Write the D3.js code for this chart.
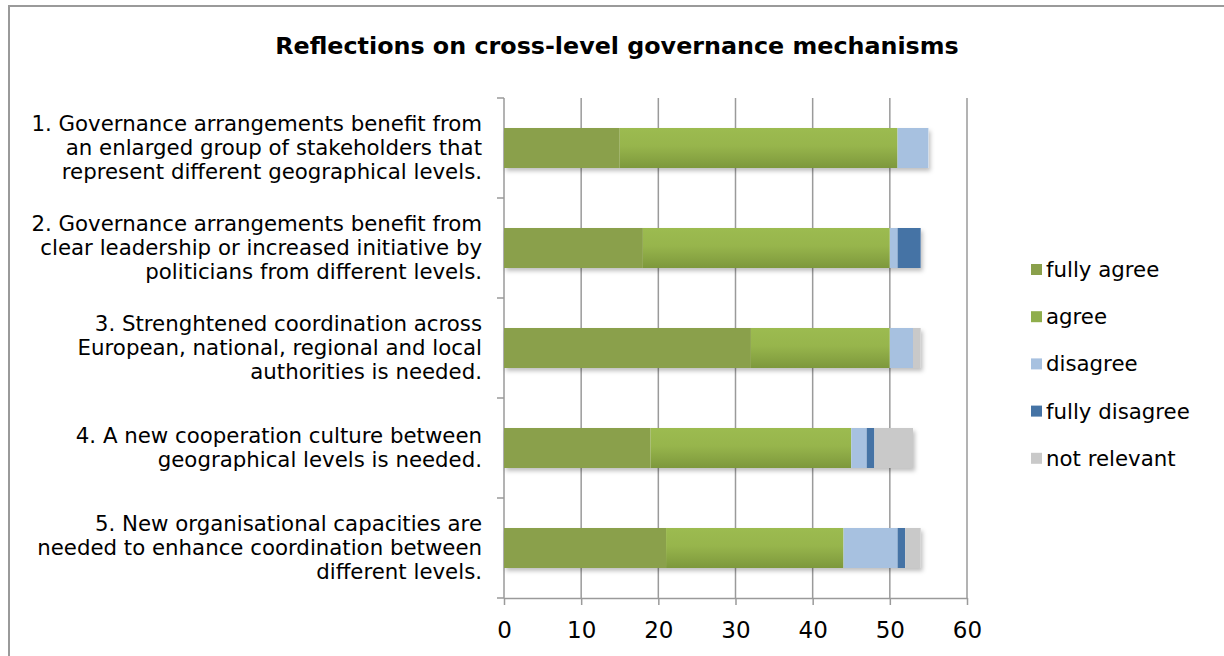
<!DOCTYPE html>
<html>
<head>
<meta charset="utf-8">
<script src="https://cdn.jsdelivr.net/npm/d3@7"></script>
<style>
  body { margin: 0; background: #fff; }
  text { font-family: "DejaVu Sans", Verdana, sans-serif; fill: #000; }
</style>
</head>
<body>
<div id="chart"></div>
<script>
// data
var questions = [
  ["1. Governance arrangements benefit from", "an enlarged group of stakeholders that", "represent different geographical levels."],
  ["2. Governance arrangements benefit from", "clear leadership or increased initiative by", "politicians from different levels."],
  ["3. Strenghtened coordination across", "European, national, regional and local", "authorities is needed."],
  ["4. A new cooperation culture between", "geographical levels is needed."],
  ["5. New organisational capacities are", "needed to enhance coordination between", "different levels."]
];
var seriesNames = ["fully agree", "agree", "disagree", "fully disagree", "not relevant"];
var fullyAgree    = [15, 18, 32, 19, 21];
var agree         = [36, 32, 18, 26, 23];
var disagree      = [4, 1, 3, 2, 7];
var fullyDisagree = [0, 3, 0, 1, 1];
var notRelevant   = [0, 0, 1, 5, 2];
var xTicks = [0, 10, 20, 30, 40, 50, 60];

var colors = ["#8AA04B", "url(#agreeGrad)", "#A7C1E0", "#4573A5", "#C9C9C9"];
var legendColors = ["#8AA04B", "#8FAE4C", "#A7C1E0", "#4573A5", "#C9C9C9"];

var width = 1224, height = 656;
var svg = d3.select("#chart").append("svg")
  .attr("width", width).attr("height", height);

var defs = svg.append("defs");
var grad = defs.append("linearGradient").attr("id", "agreeGrad")
  .attr("x1", 0).attr("y1", 0).attr("x2", 0).attr("y2", 1);
grad.append("stop").attr("offset", "0%").attr("stop-color", "#9CBB50");
grad.append("stop").attr("offset", "45%").attr("stop-color", "#97B54C");
grad.append("stop").attr("offset", "100%").attr("stop-color", "#7D983C");
var sh = defs.append("filter").attr("id", "shadow")
  .attr("x", "-5%").attr("y", "-20%").attr("width", "110%").attr("height", "150%");
sh.append("feDropShadow").attr("dx", 2).attr("dy", 3).attr("stdDeviation", 2)
  .attr("flood-color", "#000").attr("flood-opacity", 0.25);

// outer frame (open to the right and bottom)
svg.append("path")
  .attr("d", "M9," + height + " V6 H" + width)
  .attr("fill", "none").attr("stroke", "#9a9a9a").attr("stroke-width", 2);

svg.append("text")
  .attr("x", 617).attr("y", 54)
  .attr("text-anchor", "middle")
  .style("font-size", "23.8px").style("font-weight", "bold")
  .text("Reflections on cross-level governance mechanisms");

var x = d3.scaleLinear().domain([0, 60]).range([504, 967]);
var y = d3.scaleBand().domain(d3.range(questions.length)).range([98, 598]).paddingInner(0.6).paddingOuter(0.3);
var yOuter = d3.scaleBand().domain(d3.range(questions.length)).range([98, 598]);

// grid lines
svg.append("g").selectAll("line").data(xTicks.slice(1)).enter().append("line")
  .attr("x1", function(d){ return x(d); }).attr("x2", function(d){ return x(d); })
  .attr("y1", 98).attr("y2", 598)
  .attr("stroke", "#9a9a9a").attr("stroke-width", 1.5);

// x axis
var xAxis = svg.append("g").attr("transform", "translate(0,598)")
  .call(d3.axisBottom(x).tickValues(xTicks).tickSize(7).tickSizeOuter(0));
xAxis.select(".domain").attr("stroke", "#9a9a9a").attr("stroke-width", 1.5);
xAxis.selectAll(".tick line").attr("stroke", "#9a9a9a").attr("stroke-width", 1.5);
xAxis.selectAll(".tick text").attr("dy", "1.05em").attr("y", 16)
  .style("font-size", "23px").style("font-family", "'DejaVu Sans', Verdana, sans-serif").attr("fill", "#000");

// y axis
var yTickVals = d3.range(questions.length + 1).map(function(i){ return 98 + i * 100; });
svg.append("line").attr("x1", 504).attr("x2", 504).attr("y1", 98).attr("y2", 598)
  .attr("stroke", "#9a9a9a").attr("stroke-width", 1.5);
svg.append("g").selectAll("line").data(yTickVals).enter().append("line")
  .attr("x1", 497).attr("x2", 504)
  .attr("y1", function(d){ return d; }).attr("y2", function(d){ return d; })
  .attr("stroke", "#9a9a9a").attr("stroke-width", 1.5);

// stacked bars
var table = questions.map(function(q, i) {
  return { i: i, "fully agree": fullyAgree[i], "agree": agree[i], "disagree": disagree[i],
           "fully disagree": fullyDisagree[i], "not relevant": notRelevant[i] };
});
var stack = d3.stack().keys(seriesNames)(table);

var barsG = svg.append("g");
// shadow layer under each whole bar
barsG.selectAll("rect.sh").data(table).enter().append("rect")
  .attr("class", "sh")
  .attr("x", x(0))
  .attr("y", function(d){ return y(d.i); })
  .attr("width", function(d){ return x(d3.sum(seriesNames, function(k){ return d[k]; })) - x(0); })
  .attr("height", y.bandwidth())
  .attr("fill", "#fff")
  .attr("filter", "url(#shadow)");

stack.forEach(function(layer, si) {
  barsG.append("g").attr("fill", colors[si])
    .selectAll("rect").data(layer).enter().append("rect")
    .attr("x", function(d){ return x(d[0]); })
    .attr("y", function(d){ return y(d.data.i); })
    .attr("width", function(d){ return x(d[1]) - x(d[0]); })
    .attr("height", y.bandwidth());
});

// category labels
var lab = svg.append("g");
questions.forEach(function(lines, i) {
  var cy = yOuter(i) + yOuter.bandwidth() / 2;
  var lh = 24;
  var t = lab.append("text").attr("text-anchor", "end").style("font-size", "21.3px");
  lines.forEach(function(l, j) {
    t.append("tspan").attr("x", 482)
      .attr("y", cy + (j - (lines.length - 1) / 2) * lh + 7)
      .text(l);
  });
});

// legend
var leg = svg.append("g");
seriesNames.forEach(function(n, i) {
  var ly = 270 + i * 47.2;
  leg.append("rect").attr("x", 1031).attr("y", ly - 6).attr("width", 11).attr("height", 11)
    .attr("fill", legendColors[i]);
  leg.append("text").attr("x", 1046).attr("y", ly + 7).style("font-size", "21.3px").text(n);
});
</script>
</body>
</html>
